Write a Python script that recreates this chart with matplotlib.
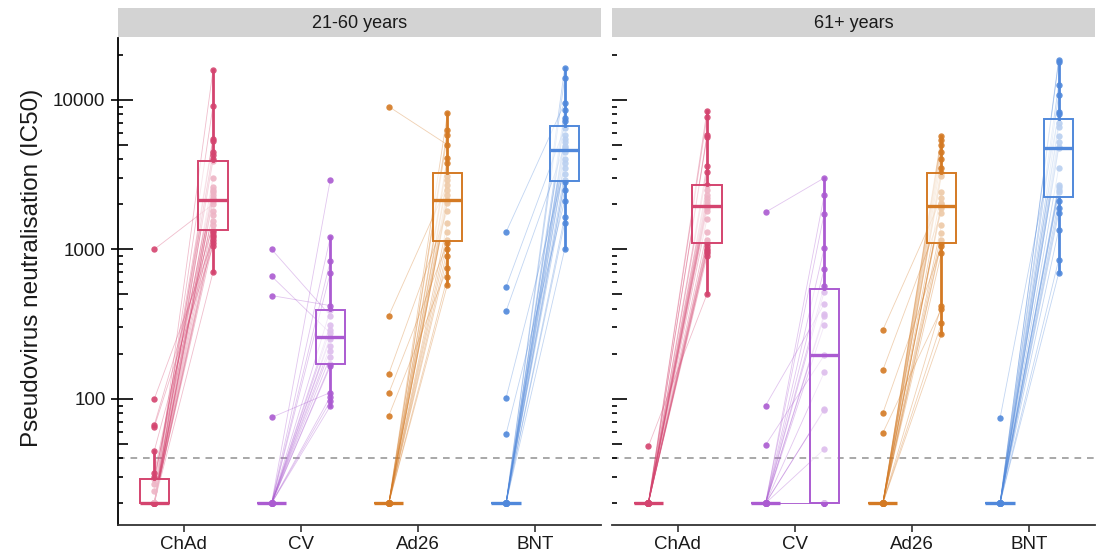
import numpy as np
import matplotlib.pyplot as plt
from matplotlib import cbook

plt.rcParams['font.family'] = ['Liberation Sans', 'DejaVu Sans']

vaccines = ['ChAd', 'CV', 'Ad26', 'BNT']
panels = ['21-60 years', '61+ years']
colors = ['#D4446F', '#AB5BD1', '#D47A24', '#5088DB']
threshold = 40

# 21-60 years: pre (left point) and post (right point), paired by index
young_chad_pre = [20, 20, 24, 20, 20, 27, 20, 20, 20, 29, 20, 20, 32, 20, 20,
                  20, 1000, 20, 30, 20, 67, 20, 45, 20, 20, 100, 20, 65, 20]
young_chad_post = [15700, 9100, 5500, 5300, 4500, 4300, 4000, 3900, 3000, 2600,
                   2500, 2400, 2300, 2200, 2150, 2100, 2000, 1800, 1700, 1550,
                   1450, 1350, 1300, 1250, 1200, 1150, 1100, 1050, 700]
young_cv_pre = [20, 20, 20, 20, 490, 20, 1000, 20, 20, 660, 20, 20, 20, 20,
                20, 20, 20, 75, 20, 20, 20]
young_cv_post = [2900, 1200, 830, 690, 420, 390, 360, 310, 290, 275, 260, 250,
                 225, 210, 190, 170, 165, 110, 103, 96, 89]
young_ad26_pre = [20, 20, 20, 9000, 20, 20, 20, 20, 360, 20, 20, 20, 20, 20,
                  147, 20, 20, 20, 109, 20, 20, 77, 20, 20]
young_ad26_post = [8100, 6300, 5800, 5000, 4100, 3800, 3100, 2900, 2700, 2500,
                   2300, 2150, 2100, 2050, 1800, 1500, 1300, 1150, 1100, 1000,
                   900, 750, 650, 580]
young_bnt_pre = [20, 20, 1300, 20, 20, 20, 560, 20, 20, 20, 385, 20, 20, 20,
                 20, 101, 20, 20, 20, 20, 58, 20, 20, 20]
young_bnt_post = [16300, 14000, 9500, 8500, 7600, 7200, 6500, 5800, 5500, 5200,
                  4900, 4750, 4500, 4000, 3800, 3500, 3200, 2900, 2800, 2500,
                  2100, 1650, 1500, 1000]

# 61+ years
old_chad_pre = [20, 20, 20, 20, 20, 20, 20, 20, 20, 20, 20, 20, 20, 20, 20,
                20, 20, 20, 20, 20, 20, 20, 20, 20, 48]
old_chad_post = [8400, 7700, 5800, 5600, 3600, 3300, 2700, 2500, 2300, 2200,
                 2100, 2000, 1950, 1900, 1800, 1600, 1300, 1150, 1100, 1050,
                 1000, 980, 950, 900, 500]
old_cv_pre = [1770, 20, 20, 20, 20, 20, 20, 90, 20, 20, 20, 49, 20, 20, 20,
              20, 20, 20, 20, 20, 20, 20, 20]
old_cv_post = [3000, 2300, 1730, 1020, 740, 570, 520, 430, 370, 355, 310, 195,
               150, 85, 84, 46, 20, 20, 20, 20, 20, 20, 20]
old_ad26_pre = [20, 20, 20, 20, 20, 20, 20, 20, 20, 288, 20, 20, 20, 20, 155,
                20, 20, 20, 20, 80, 20, 20, 59, 20, 20]
old_ad26_post = [5700, 5400, 5000, 4500, 4000, 3500, 3250, 3100, 2400, 2200,
                 2050, 2000, 1960, 1900, 1750, 1450, 1280, 1150, 1100, 1050,
                 940, 420, 400, 320, 270]
old_bnt_pre = [20, 20, 20, 20, 20, 74, 20, 20, 20, 20, 20, 20, 20, 20, 20,
               20, 20, 20, 20, 20, 20, 20, 20]
old_bnt_post = [18500, 17900, 12600, 10800, 8300, 8000, 7000, 6600, 5700, 5200,
                4800, 4750, 3500, 2700, 2600, 2500, 2400, 2100, 1900, 1750,
                1350, 850, 690]

data = [
    [(young_chad_pre, young_chad_post), (young_cv_pre, young_cv_post),
     (young_ad26_pre, young_ad26_post), (young_bnt_pre, young_bnt_post)],
    [(old_chad_pre, old_chad_post), (old_cv_pre, old_cv_post),
     (old_ad26_pre, old_ad26_post), (old_bnt_pre, old_bnt_post)],
]


def log_box(ax, values, pos, color):
    # box stats on the log scale, like ggplot with scale_y_log10
    st = cbook.boxplot_stats(np.log10(values), whis=1.5)[0]
    for k in ['med', 'q1', 'q3', 'whislo', 'whishi', 'mean', 'cilo', 'cihi']:
        st[k] = 10 ** st[k]
    st['fliers'] = 10 ** np.asarray(st['fliers'])
    ax.bxp([st], positions=[pos], widths=[0.25], patch_artist=True,
           showfliers=False, showcaps=False, zorder=4,
           boxprops=dict(facecolor=(1, 1, 1, 0.6), edgecolor=color, linewidth=1.4),
           medianprops=dict(color=color, linewidth=2.4),
           whiskerprops=dict(color=color, linewidth=2.0))


fig = plt.figure(figsize=(11.07, 5.56), dpi=100)
W, H = 1107, 556
ax_w = 483 / W
axes = []
for p, x0 in enumerate([118, 612]):
    ax = fig.add_axes([x0 / W, 1 - 525 / H, ax_w, 487 / H])
    axes.append(ax)
    strip = fig.add_axes([x0 / W, 1 - 37 / H, ax_w, 29 / H])
    strip.set_facecolor('#D3D3D3')
    strip.set_xticks([])
    strip.set_yticks([])
    for s in strip.spines.values():
        s.set_visible(False)
    strip.text(0.5, 0.47, panels[p], ha='center', va='center', fontsize=13,
               color='#1A1A1A', transform=strip.transAxes)

    for i, (pre, post) in enumerate(data[p]):
        c = colors[i]
        xs = i + 1
        for a, b in zip(pre, post):
            ax.plot([xs - 0.25, xs + 0.25], [a, b], color=c, alpha=0.35,
                    lw=0.6, zorder=1)
        ax.scatter([xs - 0.25] * len(pre), pre, s=21, color=c, alpha=0.9,
                   linewidths=0, zorder=2)
        ax.scatter([xs + 0.25] * len(post), post, s=21, color=c, alpha=0.9,
                   linewidths=0, zorder=2)
        log_box(ax, pre, xs - 0.25, c)
        log_box(ax, post, xs + 0.25, c)

    ax.axhline(threshold, color='#9A9A9A', lw=1.2, ls=(0, (4, 3.5)), zorder=0)

    ax.set_yscale('log')
    ax.set_ylim(14.3, 25900)
    ax.set_xlim(0.44, 4.56)
    ax.set_xticks(range(1, 5))
    ax.set_xticklabels(vaccines, fontsize=13.5, color='#1A1A1A')
    ax.tick_params(axis='x', direction='out', length=5, width=1.2,
                   color='#333333', pad=3)
    ax.yaxis.set_minor_locator(plt.NullLocator())
    ax.set_yticks([100, 1000, 10000])
    for side in ['top', 'right']:
        ax.spines[side].set_visible(False)
    ax.spines['bottom'].set_color('#333333')
    ax.spines['bottom'].set_linewidth(1.3)

    # log tick marks inside the panel
    ytr = ax.get_yaxis_transform()
    for dec in [10, 100, 1000, 10000]:
        for m in range(1, 10):
            ln = 15 / 483 if m == 1 else (10 / 483 if m == 5 else 5 / 483)
            ax.plot([0, ln], [m * dec, m * dec], transform=ytr, color='black',
                    lw=1.2, solid_capstyle='butt', zorder=5)

    if p == 0:
        ax.set_yticklabels(['100', '1000', '10000'], fontsize=13.5,
                           color='#1A1A1A')
        ax.tick_params(axis='y', direction='out', length=5, width=1.2, pad=4)
        ax.spines['left'].set_linewidth(1.3)
        ax.set_ylabel('Pseudovirus neutralisation (IC50)', fontsize=17.5,
                      color='#1A1A1A')
        ax.yaxis.set_label_coords(-0.155, 0.528)
    else:
        ax.spines['left'].set_visible(False)
        ax.tick_params(axis='y', length=0, labelleft=False)

plt.savefig('out.png', dpi=100, facecolor='white')
